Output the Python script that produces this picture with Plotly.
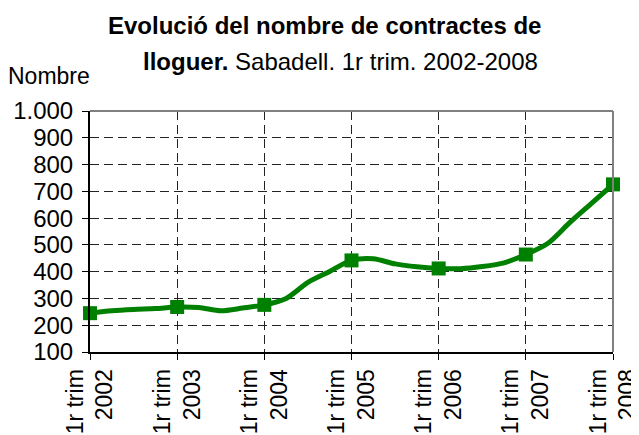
import plotly.graph_objects as go

years = [2002, 2003, 2004, 2005, 2006, 2007, 2008]
# quarterly values, 1r trim 2002 ... 1r trim 2008
values = [245, 254, 259, 262,
          268, 266, 254, 264,
          276, 300, 360, 401,
          442, 448, 429, 418,
          412, 411, 419, 433,
          464, 505, 582, 654,
          726]
tick_labels = [f"1r trim<br>{y}" for y in years]
title_line1 = "<b>Evolució del nombre de contractes de</b>"
title_line2 = "<b>lloguer.</b> Sabadell. 1r trim. 2002-2008"
y_title = "Nombre"

idx = list(range(len(values)))
q1_idx = idx[::4]
q1_vals = values[::4]

font_family = "Liberation Sans, Arial, sans-serif"

fig = go.Figure()
fig.add_trace(go.Scatter(
    x=idx, y=values, mode="lines",
    line=dict(color="#008000", width=5, shape="spline", smoothing=0.8),
    cliponaxis=False, showlegend=False, hoverinfo="skip"))
fig.add_trace(go.Scatter(
    x=q1_idx, y=q1_vals, mode="markers",
    marker=dict(symbol="square", size=14, color="#008000"),
    cliponaxis=False, showlegend=False))

# page body has an 8px margin, so screen coords = figure coords + 8
OFF = 8
W, H = 639, 435
# target plot area in screen pixels: x 90..613, y 111..352
L, T = 90 - OFF, 111 - OFF
R = W - (613 - OFF)
B = H - (352 - OFF)
pw, ph = W - L - R, H - T - B

def px_x(x):
    return (x - OFF - L) / pw

def px_y(y):
    return (H - B - (y - OFF)) / ph

grid_dash = "9px,5px"

fig.update_layout(
    width=W, height=H,
    margin=dict(l=L, r=R, t=T, b=B, autoexpand=False),
    paper_bgcolor="white", plot_bgcolor="white",
    separators=",.",
    font=dict(family=font_family, size=24, color="black"),
    xaxis=dict(
        range=[0, len(values) - 1], tickvals=q1_idx, ticktext=tick_labels,
        tickangle=-90, showline=True, linecolor="black", linewidth=2,
        ticks="outside", ticklen=6, tickcolor="black", tickwidth=1,
        showgrid=True, gridcolor="#222222", griddash=grid_dash, gridwidth=1,
        zeroline=False, tickfont=dict(size=23), automargin=False,
        ticklabeloverflow="allow"),
    yaxis=dict(
        range=[100, 1000], dtick=100, tick0=100, tickformat=",d",
        showline=True, linecolor="black", linewidth=2,
        ticks="outside", ticklen=6, tickcolor="black", tickwidth=1,
        showgrid=True, gridcolor="#222222", griddash=grid_dash, gridwidth=1,
        zeroline=False, tickfont=dict(size=24), automargin=False,
        ticklabelstandoff=4, ticklabeloverflow="allow"),
    shapes=[
        dict(type="line", xref="paper", yref="paper", x0=0, x1=1, y0=1, y1=1,
             line=dict(color="#808080", width=2)),
        dict(type="line", xref="paper", yref="paper", x0=1, x1=1, y0=0, y1=1,
             line=dict(color="#808080", width=2)),
    ],
    annotations=[
        dict(text=title_line1, xref="paper", yref="paper",
             x=px_x(324), y=px_y(26), xanchor="center", yanchor="middle",
             showarrow=False, font=dict(size=24, family=font_family)),
        dict(text=title_line2, xref="paper", yref="paper",
             x=px_x(340), y=px_y(61), xanchor="center", yanchor="middle",
             showarrow=False, font=dict(size=24, family=font_family)),
        dict(text=y_title, xref="paper", yref="paper",
             x=px_x(6), y=px_y(76), xanchor="left", yanchor="middle",
             showarrow=False, font=dict(size=23, family=font_family)),
    ],
)

fig.write_html("out.html")
